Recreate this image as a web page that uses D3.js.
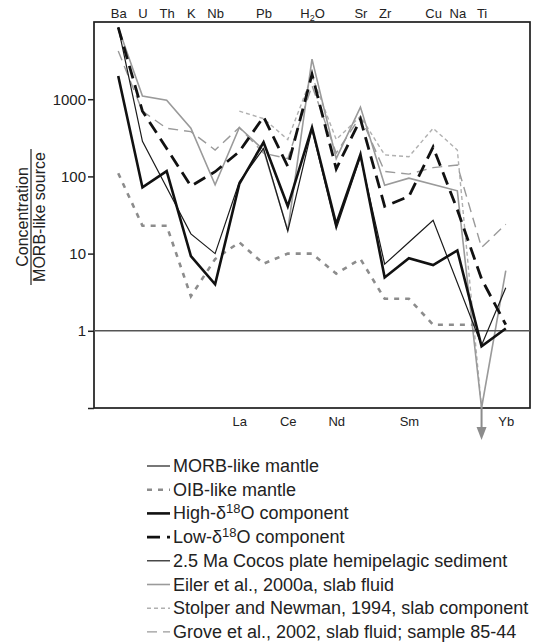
<!DOCTYPE html>
<html>
<head>
<meta charset="utf-8">
<script src="https://cdn.jsdelivr.net/npm/d3@7"></script>
<style>
  html, body { margin: 0; padding: 0; background: #fff; }
  svg { display: block; font-family: "Liberation Sans", Arial, Helvetica, sans-serif; }
</style>
</head>
<body>
<svg id="chart" width="535" height="642"></svg>
<script>
// Element order along the spider diagram
const elements = ["Ba","U","Th","K","Nb","La","Pb","Ce","H2O","Nd","Sr","Zr","Sm","Cu","Na","Ti","Yb"];
const topLabels = ["Ba","U","Th","K","Nb","Pb","H2O","Sr","Zr","Cu","Na","Ti"];
const bottomLabels = ["La","Ce","Nd","Sm","Yb"];
const yTicks = [0.1, 1, 10, 100, 1000];

// Concentrations normalised to a MORB-like source (null = not analysed)
const morbMantle    = [1,1,1,1,1,1,1,1,1,1,1,1,1,1,1,1,1];
const oibMantle     = [110, 23, 23, 2.8, 8.5, 14, 7.4, 10, 10, 5.5, 8.5, 2.6, 2.6, 1.2, 1.2, 1.2, null];
const highO18       = [2000, 72, 117, 9.3, 4.0, 80, 277, 41, 430, 24, 193, 4.9, 8.7, 7.1, 11, 0.63, 1.07];
const lowO18        = [8500, 700, 230, 75, 115, 210, 590, 135, 2100, 125, 550, 41, 55, 240, 37, 4.7, 1.2];
const cocosSediment = [8500, 285, 72, 18, 10, 85, 230, 19.5, 410, 21, 180, 7.3, 14, 27, null, 0.65, 3.6];
const eilerFluid    = [8500, 1100, 970, 420, 78, 430, 220, 20, 3300, 170, 790, 77, 95, null, 65, 0.1, 6];
const stolperSlab   = [null, null, null, null, null, 700, 560, 300, 2000, 300, 600, 190, 180, 420, 220, 0.1, null];
const groveFluid    = [4200, 700, 420, 380, 220, 430, 200, 170, 1500, 200, 600, 116, 107, 130, 140, 12, 24];

const legendLabels = [
  "MORB-like mantle",
  "OIB-like mantle",
  "High-δ18O component",
  "Low-δ18O component",
  "2.5 Ma Cocos plate hemipelagic sediment",
  "Eiler et al., 2000a, slab fluid",
  "Stolper and Newman, 1994, slab component",
  "Grove et al., 2002, slab fluid; sample 85-44"
];

// Series styles, in legend order
const series = [
  { values: morbMantle,    color: "#555",    width: 1.6, dash: null, fullWidth: true },
  { values: oibMantle,     color: "#8c8c8c", width: 2.6, dash: "5,6" },
  { values: highO18,       color: "#111",    width: 2.6, dash: null },
  { values: lowO18,        color: "#111",    width: 2.8, dash: "13,7" },
  { values: cocosSediment, color: "#1a1a1a", width: 1.2, dash: null },
  { values: eilerFluid,    color: "#9a9a9a", width: 1.6, dash: null },
  { values: stolperSlab,   color: "#b0b0b0", width: 1.4, dash: "4,3" },
  { values: groveFluid,    color: "#9a9a9a", width: 1.4, dash: "10,6" }
];
const drawOrder = [6, 7, 5, 1, 0, 4, 3, 2];

const svg = d3.select("#chart");
const plotLeft = 94, plotRight = 530, plotTop = 22, plotBottom = 408;

const x = d3.scalePoint().domain(elements).range([plotLeft, plotRight]).padding(1);
const y = d3.scaleLog().domain([0.1, 10000]).range([plotBottom, plotTop]);

// Frame box
svg.append("rect")
  .attr("class", "frame")
  .attr("x", plotLeft).attr("y", plotTop)
  .attr("width", plotRight - plotLeft).attr("height", plotBottom - plotTop)
  .style("fill", "#ffffff").style("stroke", "#1e1e1e").style("stroke-width", "1.7px");

// Series lines; the flat MORB reference runs across the whole frame
const line = d3.line().x(d => d.px != null ? d.px : x(d.el)).y(d => y(d.v));
const plot = svg.append("g");
drawOrder.forEach(i => {
  const s = series[i];
  let pts = elements.map((el, k) => ({ el, v: s.values[k] })).filter(d => d.v != null);
  if (s.fullWidth) {
    pts = [{ px: plotLeft, v: s.values[0] }, ...pts, { px: plotRight, v: s.values[s.values.length - 1] }];
  }
  plot.append("path")
    .datum(pts)
    .attr("d", line)
    .attr("fill", "none")
    .attr("stroke", s.color)
    .attr("stroke-width", s.width)
    .attr("stroke-dasharray", s.dash)
    .attr("stroke-linejoin", "miter");
});

// Off-scale arrow below Ti
const ax = x("Ti"), ay = y(0.1);
svg.append("line").attr("x1", ax).attr("x2", ax).attr("y1", ay).attr("y2", ay + 20)
  .attr("stroke", "#8c8c8c").attr("stroke-width", 2);
svg.append("path")
  .attr("d", `M${ax - 5},${ay + 19} L${ax + 5},${ay + 19} L${ax},${ay + 32} Z`)
  .attr("fill", "#8c8c8c");

// Y axis
const yAxis = svg.append("g")
  .attr("transform", `translate(${plotLeft},0)`)
  .call(d3.axisLeft(y).tickValues(yTicks).tickSize(6).tickPadding(2)
    .tickFormat(d => d >= 1 ? d3.format("d")(d) : ""));
yAxis.select(".domain").remove();
yAxis.selectAll("line").attr("stroke", "#222").attr("stroke-width", 1.5);
yAxis.selectAll("text").attr("font-size", 15).attr("fill", "#222")
  .attr("font-family", "Liberation Sans, Arial, sans-serif");

// Element labels on the top and bottom
function fmtLabels(g) {
  g.select(".domain").remove();
  g.selectAll("line").remove();
  g.selectAll("text").attr("font-size", 13).attr("fill", "#222")
    .attr("font-family", "Liberation Sans, Arial, sans-serif");
  g.selectAll("text").filter(d => d === "H2O").each(function() {
    const t = d3.select(this);
    t.text("H");
    t.append("tspan").attr("font-size", 9).attr("dy", 3).text("2");
    t.append("tspan").attr("dy", -3).text("O");
  });
}
svg.append("g").attr("transform", `translate(0,${plotTop - 4})`)
  .call(d3.axisTop(x).tickValues(topLabels).tickSize(0).tickPadding(0))
  .call(fmtLabels);
svg.append("g").attr("transform", `translate(0,${plotBottom + 5})`)
  .call(d3.axisBottom(x).tickValues(bottomLabels).tickSize(0).tickPadding(4))
  .call(fmtLabels);

// Y axis title as a fraction
const yt = svg.append("g").attr("transform", "translate(31,217) rotate(-90)")
  .attr("font-size", 16).attr("fill", "#222");
yt.append("text").attr("text-anchor", "middle").attr("y", -3).text("Concentration");
yt.append("line").attr("x1", -68).attr("x2", 68).attr("y1", 0).attr("y2", 0)
  .attr("stroke", "#222").attr("stroke-width", 1.2);
yt.append("text").attr("text-anchor", "middle").attr("y", 14).text("MORB-like source");

// Legend
const leg = svg.append("g");
legendLabels.forEach((label, i) => {
  const s = series[i];
  const ly = 466 + i * 23.7;
  leg.append("line").attr("x1", 147).attr("x2", 170).attr("y1", ly).attr("y2", ly)
    .attr("stroke", s.color).attr("stroke-width", s.width)
    .attr("stroke-dasharray", s.dash);
  const t = leg.append("text").attr("x", 173).attr("y", ly + 6)
    .attr("font-size", 18).attr("fill", "#222");
  const parts = label.split("δ18O");
  if (parts.length > 1) {
    t.append("tspan").text(parts[0] + "δ");
    t.append("tspan").attr("font-size", 13).attr("dy", -6).text("18");
    t.append("tspan").attr("dy", 6).text("O" + parts[1]);
  } else {
    t.text(label);
  }
});
</script>
</body>
</html>
